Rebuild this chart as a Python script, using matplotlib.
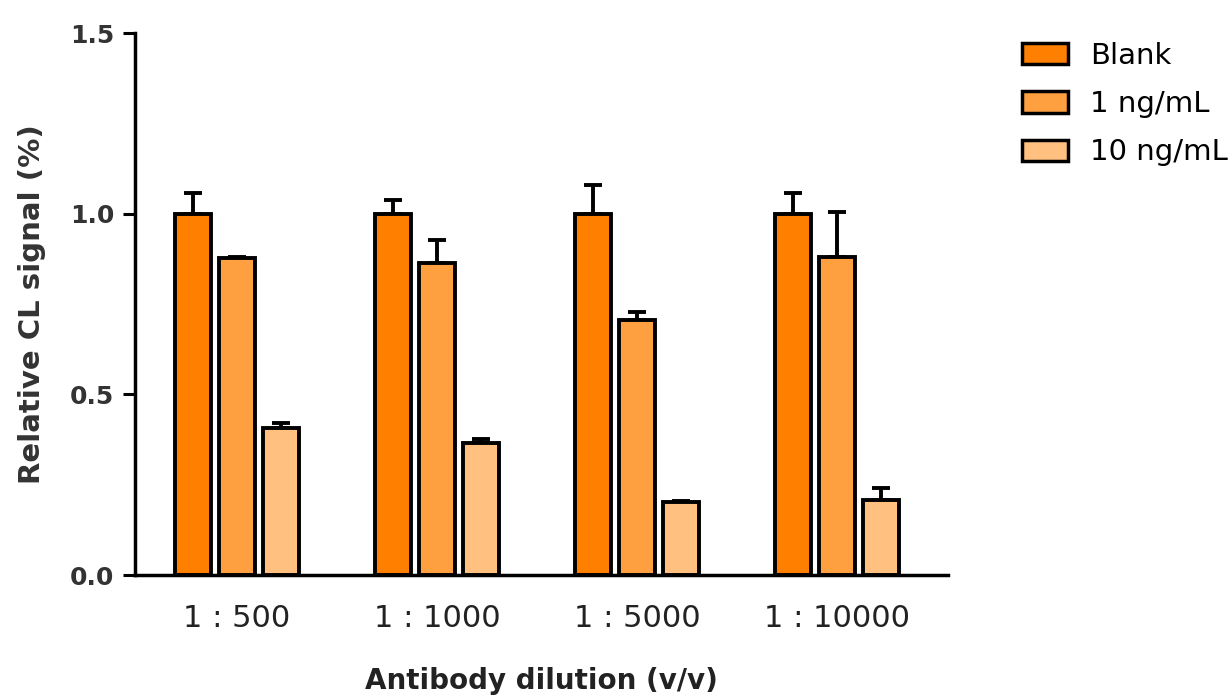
import numpy as np
import matplotlib
matplotlib.use("Agg")
import matplotlib.pyplot as plt
from matplotlib.patches import Patch

# data
dilutions = ["1 : 500", "1 : 1000", "1 : 5000", "1 : 10000"]
series = ["Blank", "1 ng/mL", "10 ng/mL"]
blank = [1.0, 1.0, 1.0, 1.0]
blank_err = [0.056, 0.039, 0.08, 0.056]
ng1 = [0.877, 0.864, 0.706, 0.88]
ng1_err = [0.003, 0.064, 0.022, 0.125]
ng10 = [0.407, 0.365, 0.202, 0.208]
ng10_err = [0.014, 0.011, 0.003, 0.033]

colors = ["#FF8000", "#FFA040", "#FFC080"]

plt.rcParams["font.family"] = ["DejaVu Sans"]

fig = plt.figure(figsize=(12.32, 6.98), dpi=100)
ax = fig.add_axes([0.1096, 0.1762, 0.66, 0.7765])

x = np.arange(len(dilutions))
step = 0.22
width = 0.18
for i, (vals, errs) in enumerate([(blank, blank_err), (ng1, ng1_err), (ng10, ng10_err)]):
    ax.bar(x + (i - 1) * step, vals, width, color=colors[i], edgecolor="black",
           linewidth=2.8, zorder=2)
    ax.errorbar(x + (i - 1) * step, vals, yerr=[np.zeros(len(errs)), errs],
                fmt="none", ecolor="black", elinewidth=2.8, capsize=6.5,
                capthick=2.8, zorder=1)

ax.set_xlim(-0.51, 3.555)
ax.set_ylim(0, 1.5)
ax.set_yticks([0, 0.5, 1.0, 1.5])
ax.set_yticklabels(["0.0", "0.5", "1.0", "1.5"], fontsize=18, fontweight="bold",
                   color="#333333")
ax.set_xticks(x)
ax.set_xticklabels(dilutions, fontsize=22, color="#222222")
ax.tick_params(axis="x", length=0, pad=21)
ax.tick_params(axis="y", width=2.2, length=9, pad=6)

for side in ["top", "right"]:
    ax.spines[side].set_visible(False)
for side in ["left", "bottom"]:
    ax.spines[side].set_linewidth(2.5)

ax.set_ylabel("Relative CL signal (%)", fontsize=21, fontweight="bold",
              color="#333333", labelpad=17)
ax.set_xlabel("Antibody dilution (v/v)", fontsize=20, fontweight="bold",
              color="#222222", labelpad=24)

handles = [Patch(facecolor=c, edgecolor="black", linewidth=2.5) for c in colors]
fig.legend(handles, series, loc="upper left", bbox_to_anchor=(0.808, 0.978),
           frameon=False, fontsize=21, handlelength=1.58, handleheight=0.75,
           labelspacing=0.7, handletextpad=0.75)

fig.savefig("out.png", dpi=100)
